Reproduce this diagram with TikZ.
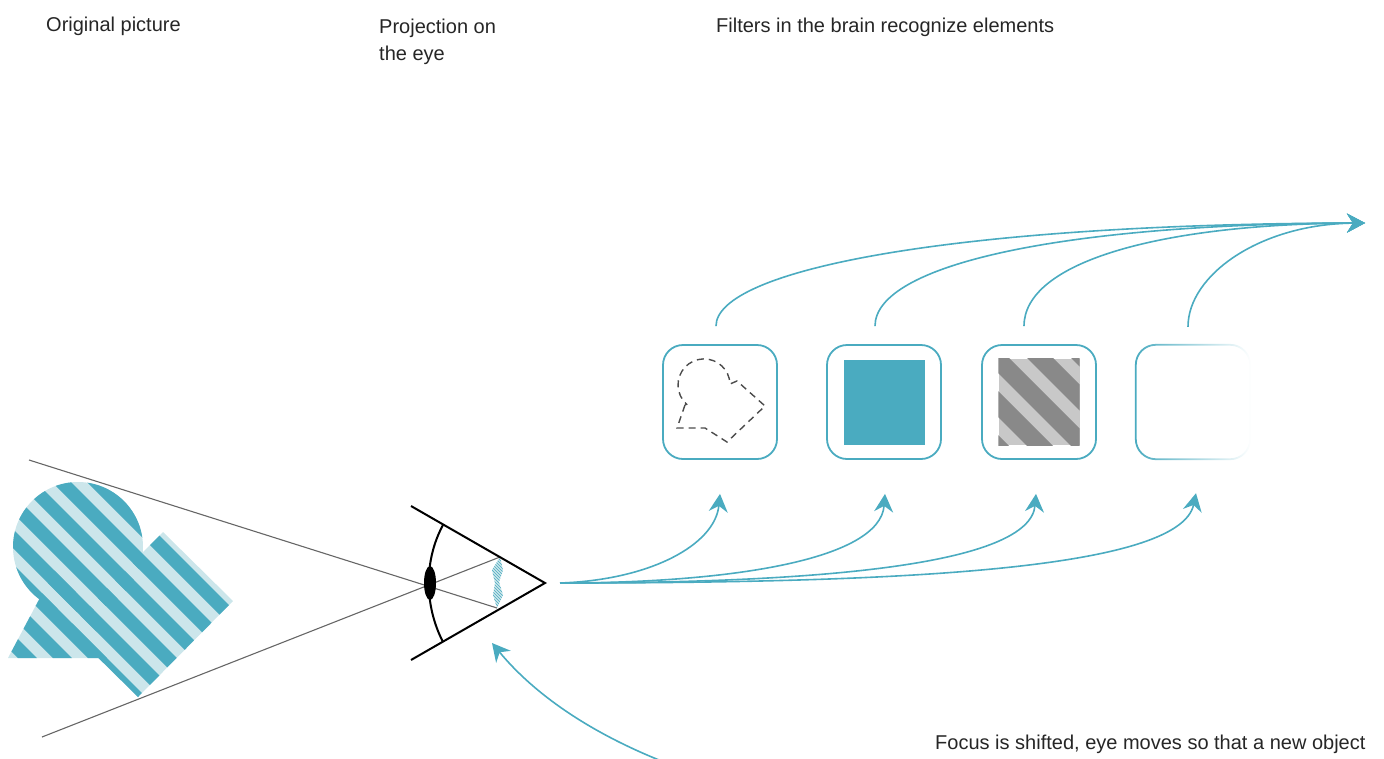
\documentclass[tikz,border=0pt]{standalone}
\usepackage{fontspec}
\setmainfont{Liberation Sans}
\usetikzlibrary{arrows.meta,calc}
\definecolor{teal1}{HTML}{4AABC0}
\definecolor{tealL}{HTML}{CCE6EB}
\definecolor{stripeD}{HTML}{898989}
\definecolor{stripeL}{HTML}{C8C8C8}
% diagonal teal stripes for the picture on the left (d = x - y)
\newcommand\tealStripeSet{%
  \foreach \k in {0,...,9}{%
    \fill[teal1] ({-395-35*\k+400},400) -- ({-376-35*\k+400},400)
      -- ({-376-35*\k+850},850) -- ({-395-35*\k+850},850) -- cycle;}}
\begin{document}
\begin{tikzpicture}[x=1pt,y=-1pt,
  caption/.style={font=\fontsize{20}{27}\selectfont, text=black!85, inner sep=0pt, anchor=base west},
  filterbox/.style={draw=teal1, line width=1.8pt, rounded corners=20pt, minimum width=114pt, minimum height=114pt, inner sep=0pt},
  flow/.style={draw=teal1, line width=1.6pt},
  tip/.style={-{Stealth[length=18pt,width=19pt,inset=6pt]}},
  ray/.style={draw=black!60, line width=1.1pt},
  eyeline/.style={draw=black, line width=2pt, line join=miter}]
\useasboundingbox (0,0) rectangle (1384,758);

% captions
\node[caption] (capOrig) at (46,31) {Original picture};
\node[caption] (capProjA) at (379,33) {Projection on};
\node[caption] (capProjB) at (379,60) {the eye};
\node[caption] (capFilt) at (716,32) {Filters in the brain recognize elements};
\node[caption] (capFocus) at (935,749) {Focus is shifted, eye moves so that a new object};

% original picture: circle, rotated rectangle and triangle, striped
\fill[tealL] (78,547) circle[radius=65];
\fill[tealL] (68,628) -- (163,532) -- (233,601) -- (138,697) -- cycle;
\fill[tealL] (8,658) -- (60,560) -- (110,658) -- cycle;
\begin{scope}
  \clip (78,547) circle[radius=65];
  \tealStripeSet
\end{scope}
\begin{scope}
  \clip (68,628) -- (163,532) -- (233,601) -- (138,697) -- cycle;
  \tealStripeSet
\end{scope}
\begin{scope}
  \clip (8,658) -- (60,560) -- (110,658) -- cycle;
  \tealStripeSet
\end{scope}

% eye
\coordinate (rayA) at (29,460);
\coordinate (rayB) at (42,737);
\coordinate (retT) at (500,557);
\coordinate (retB) at (497,608);
\coordinate (apex) at (545,583);
\coordinate (lidT) at (411,506);
\coordinate (lidB) at (411,660);
\coordinate (corT) at (443,525);
\coordinate (corB) at (443,642);

% image on the retina
\fill[tealL] (retT) -- (503,570) -- (499,582) -- (503,595) -- (retB) -- (493,595) -- (495,583) -- (492,570) -- cycle;
\begin{scope}
  \clip (retT) -- (503,570) -- (499,582) -- (503,595) -- (retB) -- (493,595) -- (495,583) -- (492,570) -- cycle;
  \foreach \k in {0,...,40}{\draw[teal1, line width=0.7pt] ({-120+3*\k+540},540) -- ({-120+3*\k+620},620);}
\end{scope}

\draw[ray] (rayA) -- (retB);
\draw[ray] (rayB) -- (retT);
\draw[eyeline] (lidT) -- (apex) -- (lidB);
\draw[eyeline] (corT) .. controls (424,560) and (424,605) .. (corB);
\fill[black] (430,583) ellipse[x radius=6, y radius=17] node (lens) {};

% filter boxes
\node[filterbox] (b1) at (720,402) {};
\node[filterbox] (b2) at (884,402) {};
\node[filterbox] (b3) at (1039,402) {};
\node[inner sep=0pt, minimum width=114pt, minimum height=114pt] (b4) at (1193,402) {};

% box 1: dashed outline
\draw[black!70, line width=1.4pt, dash pattern=on 7pt off 5pt]
  (685,405) -- (677,428) -- (705,428) -- (727,442) -- (765,406) -- (737,381) -- (730,384)
  arc[start angle=-2, end angle=-228, radius=26] -- cycle;

% box 2: solid square
\node[fill=teal1, inner sep=0pt, minimum width=81pt, minimum height=85pt] (sq2) at (b2.center) {};

% box 3: grey striped square
\node[fill=stripeL, inner sep=0pt, minimum width=81pt, minimum height=86pt] (sq3) at (b3.center) {};
\begin{scope}
  \clip (sq3.north west) rectangle (sq3.south east);
  \foreach \k in {-2,...,4}{%
    \fill[stripeD] ({581+44*\k+300},300) -- ({607+44*\k+300},300)
      -- ({607+44*\k+500},500) -- ({581+44*\k+500},500) -- cycle;}
\end{scope}

% box 4: outline fading to the right
\shade[even odd rule, left color=teal1, middle color=teal1, right color=white]
  ($(b4.north west)+(-0.9,-0.9)$) [rounded corners=20.9pt] rectangle ($(b4.south east)+(0.9,0.9)$)
  ($(b4.north west)+(0.9,0.9)$) [rounded corners=19.1pt] rectangle ($(b4.south east)+(-0.9,-0.9)$);

% flows from the eye to the filters
\coordinate (eyeOut) at (560,583);
\coordinate (in1) at ($(b1.south)+(0,34)$);
\coordinate (in2) at ($(b2.south)+(1,34)$);
\coordinate (in3) at ($(b3.south)+(-3,34)$);
\coordinate (in4) at ($(b4.south)+(3,34)$);
\draw[flow, tip] (eyeOut) .. controls (650,580) and (715,545) .. (in1);
\draw[flow, tip] (eyeOut) .. controls (730,583) and (880,560) .. (in2);
\draw[flow, tip] (eyeOut) .. controls (820,583) and (1030,565) .. (in3);
\draw[flow, tip] (eyeOut) .. controls (900,583) and (1180,570) .. (in4);

% flows from the filters onwards
\coordinate (out1) at ($(b1.north)+(-4,-18)$);
\coordinate (out2) at ($(b2.north)+(-9,-18)$);
\coordinate (out3) at ($(b3.north)+(-15,-18)$);
\coordinate (out4) at ($(b4.north)+(-5,-18)$);
\coordinate (goal) at (1365,223);
\draw[flow, tip] (out1) .. controls (716,270) and (950,224) .. (goal);
\draw[flow, tip] (out2) .. controls (875,265) and (1060,224) .. (goal);
\draw[flow, tip] (out3) .. controls (1024,262) and (1160,224) .. (goal);
\draw[flow, tip] (out4) .. controls (1188,275) and (1260,224) .. (goal);

% focus shift back to the eye
\coordinate (focusFrom) at (659,760);
\coordinate (focusTo) at (492,643);
\draw[flow, tip] (focusFrom) .. controls (590,732) and (535,695) .. (focusTo);
\end{tikzpicture}
\end{document}
